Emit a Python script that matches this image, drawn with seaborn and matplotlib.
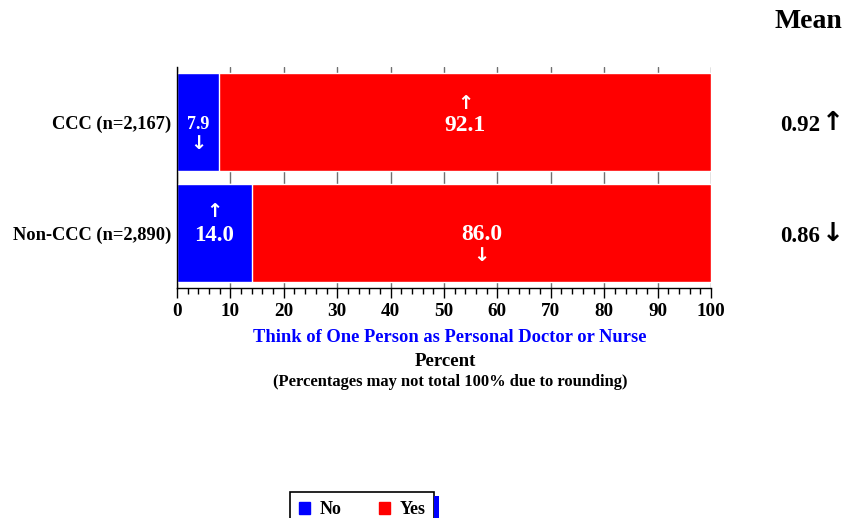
import matplotlib
matplotlib.use("Agg")
import matplotlib.pyplot as plt
from matplotlib.patches import Patch, Rectangle
import seaborn as sns
import pandas as pd

groups = ["CCC (n=2,167)", "Non-CCC (n=2,890)"]
pct_no = [7.9, 14.0]
pct_yes = [92.1, 86.0]
means = ["0.92", "0.86"]
mean_arrows = ["\u2191", "\u2193"]
no_arrows = ["\u2193", "\u2191"]
yes_arrows = ["\u2191", "\u2193"]
x_ticks = [0, 10, 20, 30, 40, 50, 60, 70, 80, 90, 100]

BLUE = "#0000FF"
RED = "#FF0000"
SERIF = ["Liberation Serif", "DejaVu Serif"]
ARROW = ["DejaVu Sans"]

sns.set_style("white")
plt.rcParams["font.family"] = SERIF
plt.rcParams["font.weight"] = "bold"
for key in ["text.color", "axes.labelcolor", "xtick.color", "ytick.color"]:
    plt.rcParams[key] = "black"

df = pd.DataFrame({
    "group": groups,
    "no": pct_no,
    "yes": pct_yes,
})
df["total"] = df["no"] + df["yes"]

fig = plt.figure(figsize=(8.43, 5.18), dpi=100)
ax = fig.add_axes([177 / 843, 1 - 288 / 518, (711 - 177) / 843, (288 - 67) / 518])

# vertical reference lines behind the bars
for t in x_ticks:
    ax.axvline(t, color="#707070", lw=1.0, zorder=0)

sns.barplot(data=df, x="total", y="group", orient="h", color=RED,
            saturation=1, width=0.88, ax=ax, zorder=2)
sns.barplot(data=df, x="no", y="group", orient="h", color=BLUE,
            saturation=1, width=0.88, ax=ax, zorder=3)

ax.set_xlim(0, 100)
ax.set_ylim(1.495, -0.495)
ax.set_xlabel("")
ax.set_ylabel("")

for side in ["top", "right"]:
    ax.spines[side].set_visible(False)
ax.spines["left"].set_color("black")
ax.spines["bottom"].set_color("black")
ax.spines["left"].set_linewidth(1.0)
ax.spines["bottom"].set_linewidth(1.0)
ax.spines["left"].set_zorder(4)

ax.set_xticks(x_ticks)
ax.set_xticks(range(0, 101, 2), minor=True)
ax.tick_params(axis="x", which="major", length=7, width=1, color="black",
               labelsize=13.8, pad=4, bottom=True, labelcolor="black")
ax.tick_params(axis="x", which="minor", length=4, width=1, color="black", bottom=True)
for lbl in ax.get_xticklabels():
    lbl.set_fontweight("bold")
ax.tick_params(axis="y", length=0, labelsize=13.3, pad=4, labelcolor="black")
for lbl in ax.get_yticklabels():
    lbl.set_fontweight("bold")


def arrow(x, y, ch, size, color="white", transform=None):
    kw = {} if transform is None else {"transform": transform}
    ax.text(x, y, ch, ha="center", va="center", color=color, fontsize=size,
            fontweight="bold", family=ARROW, zorder=5, **kw)


# value labels inside the bars
for i in range(len(groups)):
    n, y = pct_no[i], pct_yes[i]
    xn = n / 2
    xy = n + y / 2
    fs_no = 13 if n < 10 else 16.5
    ax.text(xn, i + 0.025, f"{n:.1f}", ha="center", va="center", color="white",
            fontsize=fs_no, fontweight="bold", zorder=5)
    arrow(xn, i + (0.19 if no_arrows[i] == "\u2193" else -0.19), no_arrows[i], 14)
    down = yes_arrows[i] == "\u2193"
    ax.text(xy, i + (0.015 if down else 0.03), f"{y:.1f}", ha="center", va="center",
            color="white", fontsize=17, fontweight="bold", zorder=5)
    arrow(xy, i + (0.205 if down else -0.17), yes_arrows[i], 14)

# mean column
fig.text(808 / 843, 1 - 22 / 518, "Mean", ha="center", va="center",
         fontsize=20, fontweight="bold")
trans = ax.get_yaxis_transform()
for i in range(len(groups)):
    ax.text(1.13, i + 0.03, means[i], transform=trans,
            ha="left", va="center", fontsize=16.5, fontweight="bold")
    arrow(1.2285, i + 0.01, mean_arrows[i], 19, color="black", transform=trans)

# titles under the axis
fig.text(450 / 843, 1 - 338 / 518, "Think of One Person as Personal Doctor or Nurse",
         ha="center", va="center", color=BLUE, fontsize=13.3, fontweight="bold")
fig.text(445 / 843, 1 - 361 / 518, "Percent", ha="center", va="center",
         fontsize=13.6, fontweight="bold")
fig.text(450 / 843, 1 - 382 / 518, "(Percentages may not total 100% due to rounding)",
         ha="center", va="center", fontsize=11.9, fontweight="bold")

# legend
handles = [Patch(facecolor=BLUE, edgecolor=BLUE, label="No"),
           Patch(facecolor=RED, edgecolor=RED, label="Yes")]
leg = fig.legend(handles=handles, loc="upper left",
                 bbox_to_anchor=(290 / 843, 1 - 492 / 518), borderaxespad=0,
                 ncol=2, frameon=True, fancybox=False, framealpha=1,
                 handlelength=0.62, handleheight=0.62,
                 handletextpad=0.5, columnspacing=2.1, borderpad=0.5,
                 prop={"family": SERIF, "weight": "bold", "size": 13})
leg.get_frame().set_edgecolor("black")
leg.get_frame().set_linewidth(1.2)
fig.patches.append(Rectangle((434 / 843, 0), 5 / 843, 22 / 518,
                             transform=fig.transFigure, facecolor=BLUE,
                             edgecolor="none", zorder=10))

fig.savefig("out.png", dpi=100)
